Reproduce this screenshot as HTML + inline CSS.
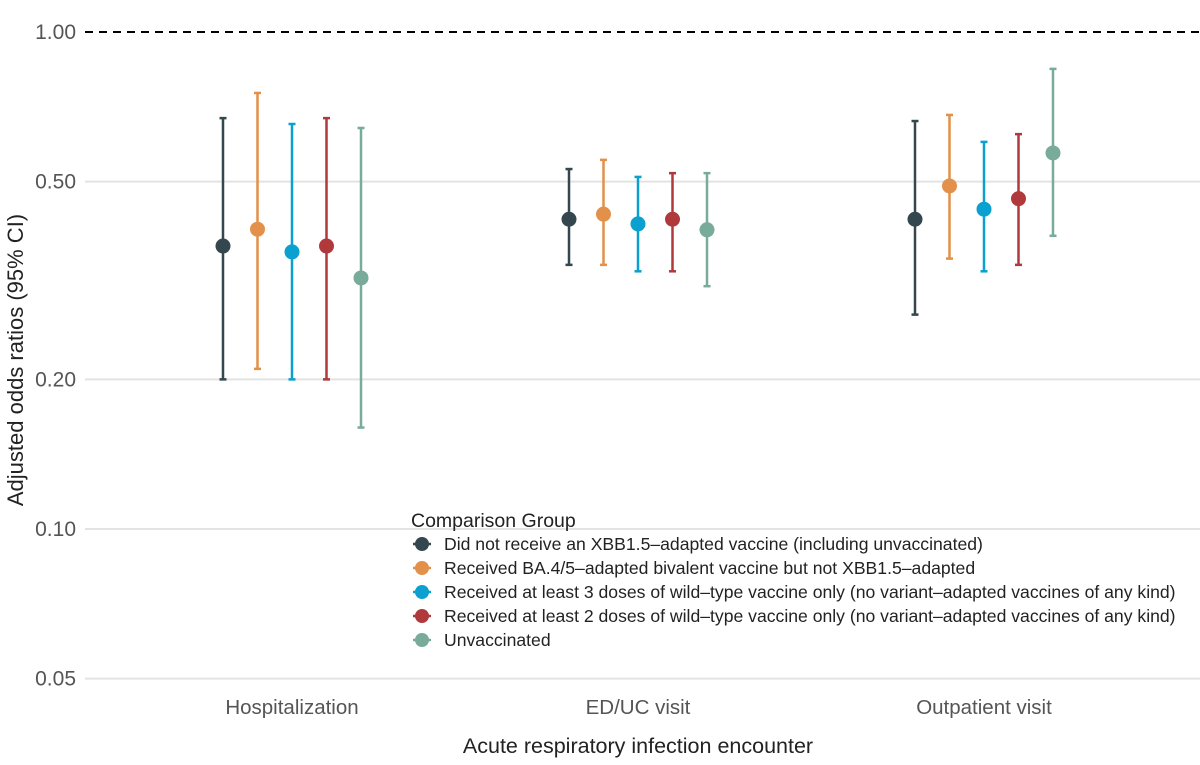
<!DOCTYPE html>
<html><head><meta charset="utf-8"><style>
body{margin:0;background:#fff;}
svg{display:block;font-family:"Liberation Sans",sans-serif;}
</style></head><body>
<svg id="chart" width="1200" height="765"></svg>
<script>
const categories=["Hospitalization","ED/UC visit","Outpatient visit"];
const seriesNames=["Did not receive an XBB1.5\u2013adapted vaccine (including unvaccinated)","Received BA.4/5\u2013adapted bivalent vaccine but not XBB1.5\u2013adapted","Received at least 3 doses of wild\u2013type vaccine only (no variant\u2013adapted vaccines of any kind)","Received at least 2 doses of wild\u2013type vaccine only (no variant\u2013adapted vaccines of any kind)","Unvaccinated"];
const colors=["#34474f","#e3904a","#0aa0d0","#b0393c","#78ab99"];
// estimates [series][category]
const est=[[0.371,0.420,0.420],[0.401,0.430,0.490],[0.361,0.411,0.440],[0.371,0.420,0.462],[0.320,0.400,0.571]];
const lower=[[0.200,0.340,0.270],[0.210,0.340,0.350],[0.200,0.330,0.330],[0.200,0.330,0.340],[0.160,0.308,0.389]];
const upper=[[0.671,0.530,0.662],[0.754,0.553,0.681],[0.653,0.511,0.601],[0.671,0.520,0.623],[0.641,0.520,0.843]];
const yTicks=[0.05,0.10,0.20,0.50,1.00];
const yTickLabels=["0.05","0.10","0.20","0.50","1.00"];

const NS="http://www.w3.org/2000/svg";
const svg=document.getElementById('chart');
function mk(tag,attrs,parent){const e=document.createElementNS(NS,tag);for(const k in attrs)e.setAttribute(k,attrs[k]);(parent||svg).appendChild(e);return e;}
const y=v=>32-Math.log10(v)*497;
const x0=292,step=346,off=34.5;
const x=(ci,si)=>x0+ci*step+(si-2)*off;

yTicks.forEach((t,i)=>{
  if(t!==1){const g=mk('line',{x1:85,x2:1200,y1:y(t),y2:y(t),stroke:'#e3e3e3','stroke-width':2});
  }
  const tx=mk('text',{x:76,y:y(t)+7,'text-anchor':'end','font-size':21,fill:'#555'});tx.textContent=yTickLabels[i];
  
});
const ref=mk('line',{x1:85,x2:1200,y1:y(1),y2:y(1),stroke:'#000','stroke-width':2,'stroke-dasharray':'8,6'});


categories.forEach((c,ci)=>{
  const t=mk('text',{x:x0+ci*step,y:714,'text-anchor':'middle','font-size':20.5,fill:'#555'});t.textContent=c;
  
  seriesNames.forEach((s,si)=>{
    const g=mk('g',{});
    const xx=x(ci,si),col=colors[si];
    mk('line',{x1:xx,x2:xx,y1:y(upper[si][ci]),y2:y(lower[si][ci]),stroke:col,'stroke-width':2.5},g);
    mk('line',{x1:xx-3.5,x2:xx+3.5,y1:y(upper[si][ci]),y2:y(upper[si][ci]),stroke:col,'stroke-width':2.5},g);
    mk('line',{x1:xx-3.5,x2:xx+3.5,y1:y(lower[si][ci]),y2:y(lower[si][ci]),stroke:col,'stroke-width':2.5},g);
    const p=mk('circle',{cx:xx,cy:y(est[si][ci]),r:7.5,fill:col},g);
    
  });
});

const xt=mk('text',{x:638,y:753,'text-anchor':'middle','font-size':21.5,fill:'#222'});xt.textContent='Acute respiratory infection encounter';

const yt=mk('text',{x:0,y:0,'text-anchor':'middle','font-size':22,fill:'#222',transform:'translate(23,360) rotate(-90)'});yt.textContent='Adjusted odds ratios (95% CI)';


const lg=mk('g',{});
const lt=mk('text',{x:411,y:527,'font-size':19.5,fill:'#222'},lg);lt.textContent='Comparison Group';
seriesNames.forEach((s,si)=>{
  const e=mk('g',{},lg);
  const yy=544+si*24;
  mk('line',{x1:413,x2:431,y1:yy,y2:yy,stroke:colors[si],'stroke-width':2.5},e);
  mk('circle',{cx:422,cy:yy,r:7,fill:colors[si]},e);
  const t=mk('text',{x:444,y:yy+6,'font-size':17.6,fill:'#222'},e);t.textContent=s;
});
</script>
</body></html>
